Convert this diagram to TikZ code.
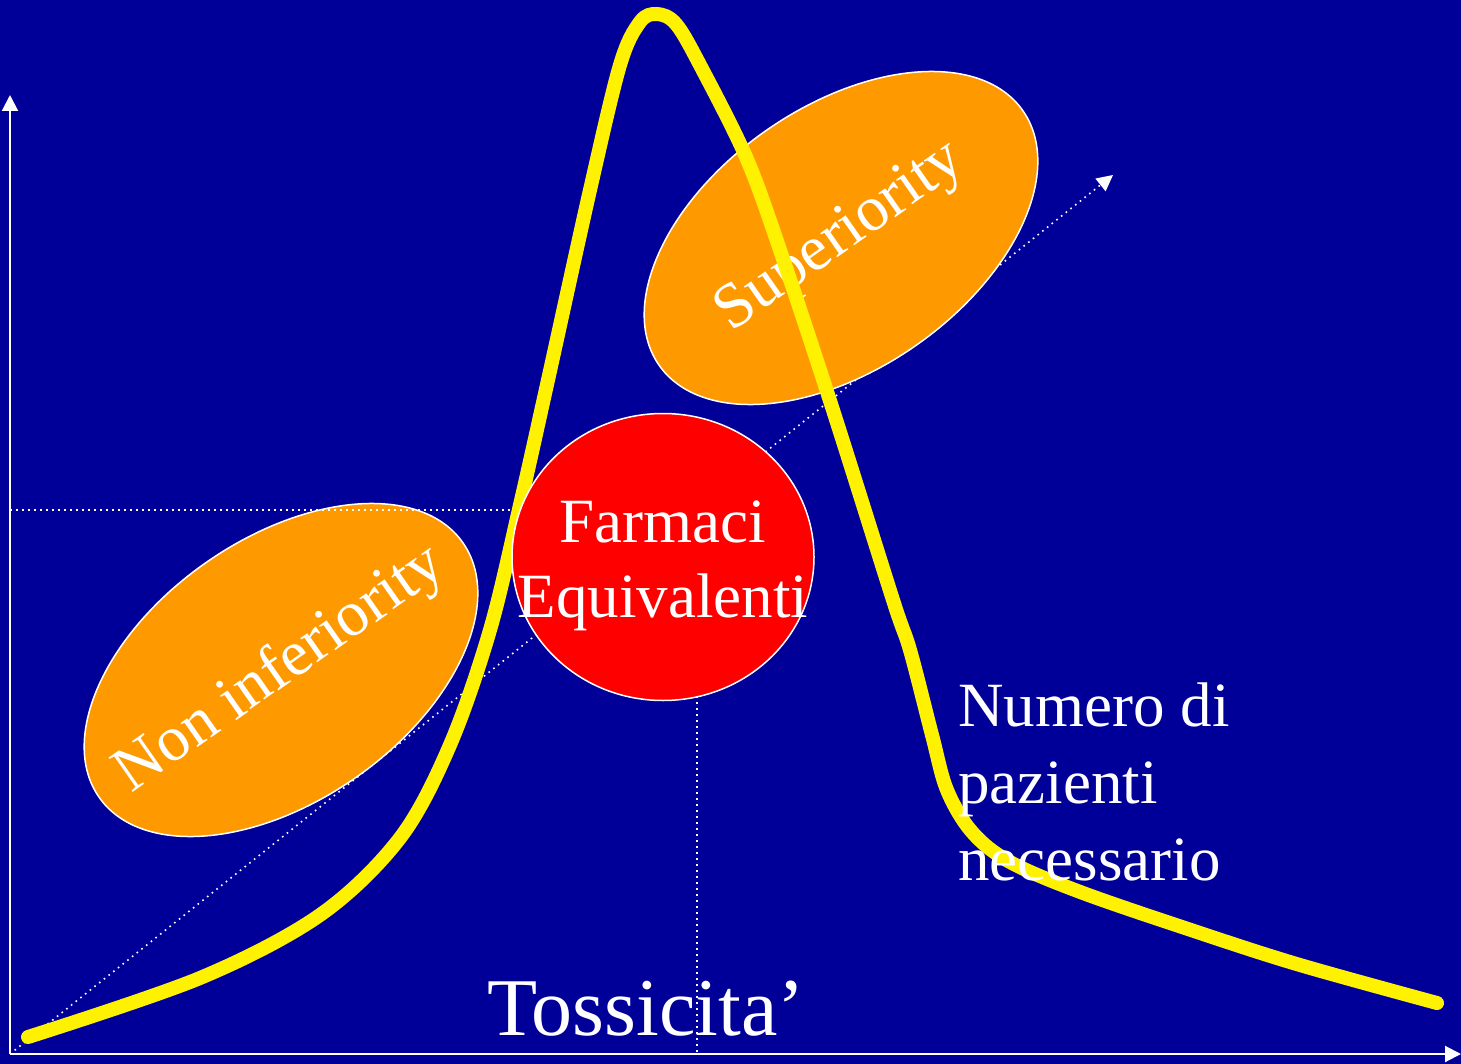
\documentclass[tikz,border=0pt]{standalone}
\usepackage{fontspec}
\setmainfont{Liberation Serif}
\usetikzlibrary{shapes.geometric, arrows.meta}
\definecolor{slideblue}{HTML}{000099}
\definecolor{regionorange}{HTML}{FF9900}
\tikzset{
    region/.style={
        ellipse,
        draw=white,
        line width=0.75pt,
        fill=regionorange,
        minimum width=222pt,
        minimum height=131pt,
        inner sep=0pt,
        rotate=35
    },
    regiontext/.style={
        text=white,
        inner sep=0pt,
        rotate=35,
        font=\fontsize{32}{38}\selectfont
    },
    equiv/.style={
        ellipse,
        draw=white,
        line width=0.75pt,
        fill=red,
        minimum width=151pt,
        minimum height=143.5pt,
        inner sep=0pt
    },
    slidetext/.style={
        text=white,
        inner sep=0pt,
        font=\fontsize{31.5}{37.5}\selectfont
    },
    axis/.style={white, line width=1pt, -{Triangle[width=8pt,length=8pt]}},
    guide/.style={white, line width=0.8pt, dash pattern=on 0.8pt off 2.2pt},
    curve/.style={yellow, line width=7pt, line cap=round, line join=round}
}

\begin{document}
\begin{tikzpicture}[x=0.5pt, y=-0.5pt]

        \path[use as bounding box, fill=slideblue] (0,0) rectangle (1461,1064);

        \coordinate (origin) at (10,1054);
        \coordinate (ytip) at (10,95);
        \coordinate (xtip) at (1461,1054);
        \coordinate (dtip) at (1113,175);
        \coordinate (hleft) at (10,510);
        \coordinate (vtop) at (697,600);
        \coordinate (eqc) at (663,557);

        \draw [axis] (origin) -- (ytip);
        \draw [axis] (origin) -- (xtip);
        \draw [guide, -{Triangle[width=8pt,length=8pt]}] (origin) -- (dtip);
        \draw [guide] (vtop) -- (vtop |- origin);

        \node (noninf) [region] at (281,670) {};
        \node (noninftext) [regiontext] at (noninf.center) {Non inferiority};
        \node (sup) [region] at (841,238) {};
        \node (suptext) [regiontext] at (sup.center) {Superiority};
        \draw [guide] (hleft) -- (hleft -| eqc);

        \draw [curve] plot[smooth, tension=0.55] coordinates {
            (28,1037) (200,978) (320,915) (400,838) (450,745) (490,630)
            (520,505) (548,380) (590,190) (620,65) (640,22) (657,14)
            (676,24) (700,65) (746,157) (780,250) (832,407) (893,600)
            (910,650) (932,735) (947,790) (972,832) (1010,862) (1083,893)
            (1200,933) (1300,965) (1437,1003)};

        \node (farmaci) [equiv] at (eqc) {};
        \node (farmacitext) [slidetext, align=center, yshift=-4.5pt] at (farmaci.center) {Farmaci\\Equivalenti};

        \node (numero) [slidetext, align=left, anchor=north west, font=\fontsize{31.5}{38.5}\selectfont] at (958,682) {Numero di\\pazienti\\necessario};
        \node (tossicita) [slidetext, anchor=base west, font=\fontsize{41}{48}\selectfont] at (487,1035) {Tossicita’};

    \end{tikzpicture}
\end{document}
